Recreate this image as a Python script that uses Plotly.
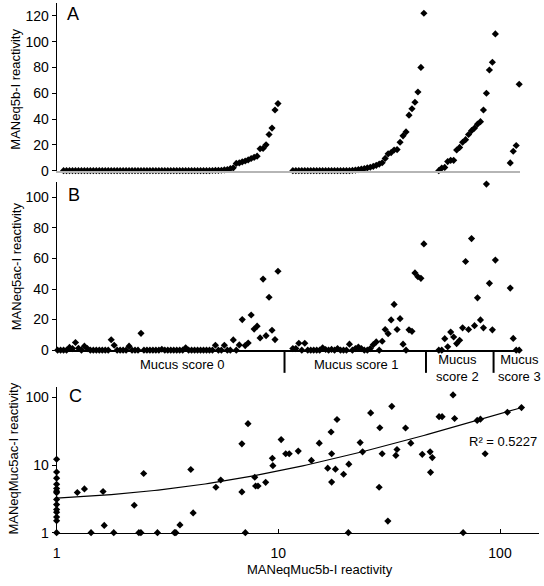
import numpy as np
import plotly.graph_objects as go

# ---------------- data ----------------
GROUP_LABELS = ["Mucus score 0", "Mucus score 1", "Mucus<br>score 2", "Mucus<br>score 3"]
GAP_SLOTS = 4  # empty category slots between mucus-score groups

# Panel A: MANeq5b-I reactivity (sorted within each mucus score group)
A_SCORE0 = [None, None,
            0, 0, 0, 0, 0, 0, 0, 0, 0, 0,
            0, 0, 0, 0, 0, 0, 0, 0, 0, 0,
            0, 0, 0, 0, 0, 0, 0, 0, 0, 0,
            0, 0, 0, 0, 0, 0, 0, 0, 0, 0,
            0, 0, 0, 0, 0, 0, 0, 0, 0, 0,
            0.1, 0.15, 0.2,
            0.3, 0.6, 0.9, 1.5, 2.2, 5.6, 6.0, 6.8, 7.5, 8.3,
            9.4, 10.3, 11.2, 17.0, 17.2, 20.0, 28.0, 33.0, 47.0, 52.0]
A_SCORE1 = [0, 0, 0, 0, 0, 0, 0, 0, 0, 0,
            0, 0, 0, 0, 0, 0, 0, 0, 0, 0,
            0.2, 0.4, 0.8, 1.3, 1.6, 2.1, 2.6, 3.3, 4.1, 5.1,
            6.1, 9.5, 13.0, 14.0, 16.0, 16.3, 22.0, 27.0, 30.0, 43.0,
            48.0, 53.0, 61.0, 80.0, 122.0]
A_SCORE2 = [0, 2, 2.5, 7, 8, 8, 16, 18, 22, 24,
            28, 31, 33, 36, 38, 47, 60, 78, 84, 106]
A_SCORE3 = [6, 15, 19.5, 67]

# Panel B: MANeq5ac-I reactivity (same samples, same order)
B_SCORE0 = [0, 0, 0, 0, 1.8, 1.0, 5.0, 1.2, 0, 2.6,
            1.0, 0, 0, 0, 0, 0, 0, 0, 6.8, 3.2,
            0, 0, 0, 0, 2.6, 0, 0, 0, 11.0, 0,
            0, 0, 0, 0, 0, 0.6, 0, 0, 0, 0,
            0, 0, 0, 1.5, 0, 0, 0, 0, 0, 0,
            0, 0, 0, 3.2, 0, 0, 3.2, 0, 0, 6.7,
            0, 3.4, 20.0, 3.0, 4.7, 23.0, 13.8, 15.7, 8.0, 46.5,
            9.5, 34.6, 13.0, 6.9, 51.6]
B_SCORE1 = [1.0, 1.0, 4.5, 0, 4.5, 0, 0, 0, 0, 0,
            1.5, 0.4, 0, 0.5, 0, 1.0, 0, 0, 0, 3.9,
            0, 1.0, 2.0, 1.0, 0, 0, 1.0, 3.6, 5.4, 0,
            5.8, 13.5, 10.8, 19.8, 29.9, 13.5, 20.6, 3.9, 0, 13.3,
            12.3, 50.5, 48.0, 47.0, 69.5]
B_SCORE2 = [0, 0, 7.5, 2.2, 11.8, 8.6, 4.3, 6.5, 14.6, 58.0,
            13.5, 73.0, 16.0, 34.2, 19.8, 14.6, 108.6, 43.7, 13.3, 58.9]
B_SCORE3 = [40.6, 7.7, 0, 0]

# Group boundaries drawn on panel B's axis (category positions)
DIVIDERS = [76.2, 123.7, 146.4]
LABEL_CENTERS = [42.0, 100.3, 134.3, 155.0]

# Panel C: log-log scatter, MANeqMuc5b-I vs MANeqMuc5ac-I
C_X = [1, 1, 1, 1, 1, 1, 1, 1, 1, 1, 1, 1, 1, 1,
       1.24, 1.335, 1.43, 1.62, 1.64, 1.81, 2.24, 2.35, 2.4, 2.47,
       2.85, 3.4, 3.45, 3.6, 4.03, 4.13, 5.23, 5.5, 6.85, 6.85,
       7.1, 7.3, 7.83, 7.9, 8.1, 8.77, 9.4, 9.45, 10.3, 10.8,
       11.2, 12.3, 14.1, 15.3, 16.7, 17.3, 17.4, 17.4, 18.1, 18.4,
       19.7, 20.7, 20.8, 23.4, 24.0, 26.1, 28.5, 28.7, 29.4, 31.2,
       32.5, 33.9, 34.3, 37.5, 39.6, 44.6, 48.4, 48.6, 49.5, 53.1,
       54.8, 61.4, 62.4, 68.2, 78.9, 81.6, 85.7, 108.0, 125.0]
C_Y = [12.2, 7.9, 6.4, 5.2, 4.5, 4.1, 3.9, 3.1, 2.6, 2.2, 2.0, 1.7, 1.5, 1.0,
       3.93, 4.43, 1.0, 4.06, 1.28, 1.0, 2.54, 1.0, 1.0, 7.5,
       1.0, 1.0, 1.0, 1.3, 8.6, 1.96, 4.7, 6.0, 20.6, 4.0,
       1.0, 41.0, 6.6, 4.9, 4.9, 5.55, 12.6, 9.8, 23.8, 14.7,
       14.7, 16.1, 11.7, 21.1, 9.0, 30.8, 14.7, 5.6, 8.7, 47.2,
       7.3, 1.0, 10.3, 21.5, 15.7, 59.0, 4.7, 35.6, 14.7, 1.48,
       74.0, 13.9, 17.0, 35.3, 21.1, 14.4, 15.7, 7.8, 12.9, 52.0,
       52.0, 109.0, 48.9, 1.0, 45.7, 47.7, 14.7, 60.4, 70.8]

# Linear trendline (Excel) shown on log axes
TREND_SLOPE = 0.545
TREND_INTERCEPT = 2.70
TREND_X_RANGE = [1, 125]
R2_TEXT = "R² = 0.5227"

# ---------------- positions from group sizes ----------------
a_groups = [A_SCORE0, A_SCORE1, A_SCORE2, A_SCORE3]
b_groups = [B_SCORE0, B_SCORE1, B_SCORE2, B_SCORE3]
xpos, a_all, b_all = [], [], []
start = 0
for ga, gb in zip(a_groups, b_groups):
    for i in range(len(ga)):
        xpos.append(start + i)
        a_all.append(ga[i])
        b_all.append(gb[i])
    start += len(ga) + GAP_SLOTS

# ---------------- layout helpers ----------------
W, H = 544, 586
FONT = "Liberation Sans, Arial, sans-serif"


def xd(p0, p1):
    return [p0 / W, p1 / W]


def yd(top, bottom):
    return [1 - bottom / H, 1 - top / H]


def px(x):
    return x / W


def py(y):
    return 1 - y / H


marker = dict(symbol="diamond", size=5.5, color="black", line=dict(width=0))

fig = go.Figure()
fig.add_trace(go.Scatter(x=xpos, y=a_all, mode="markers", marker=marker,
                         xaxis="x", yaxis="y", cliponaxis=False, showlegend=False))
fig.add_trace(go.Scatter(x=xpos, y=b_all, mode="markers", marker=marker,
                         xaxis="x2", yaxis="y2", cliponaxis=False, showlegend=False))
fig.add_trace(go.Scatter(x=C_X, y=C_Y, mode="markers", marker=marker,
                         xaxis="x3", yaxis="y3", cliponaxis=False, showlegend=False))
tx = np.logspace(np.log10(TREND_X_RANGE[0]), np.log10(TREND_X_RANGE[1]), 120)
fig.add_trace(go.Scatter(x=tx, y=TREND_SLOPE * tx + TREND_INTERCEPT, mode="lines",
                         line=dict(color="black", width=1.2),
                         xaxis="x3", yaxis="y3", showlegend=False, hoverinfo="skip"))

xr = [(53 - 54) / 3, (520 - 54) / 3]
tickfont = dict(family=FONT, size=14, color="black")

fig.update_layout(
    width=W, height=H,
    margin=dict(l=0, r=0, t=0, b=0),
    paper_bgcolor="white", plot_bgcolor="white",
    font=dict(family=FONT, size=13, color="black"),
    xaxis=dict(domain=xd(53, 520), range=xr, anchor="y", showline=True,
               linecolor="#b5b5b5", linewidth=2, showticklabels=False, ticks="",
               showgrid=False, zeroline=False),
    yaxis=dict(domain=yd(3, 173), range=[0, 130], anchor="x",
               tickvals=[0, 20, 40, 60, 80, 100, 120], ticks="outside", ticklen=4,
               tickcolor="black", showline=True, linecolor="black", linewidth=1,
               showgrid=False, zeroline=False, tickfont=tickfont),
    xaxis2=dict(domain=xd(53, 520), range=xr, anchor="y2", showline=True,
                linecolor="black", linewidth=1.5, showticklabels=False, ticks="",
                showgrid=False, zeroline=False),
    yaxis2=dict(domain=yd(184.5, 355), range=[0, 110], anchor="x2",
                tickvals=[0, 20, 40, 60, 80, 100], ticks="outside", ticklen=4,
                tickcolor="black", showline=True, linecolor="black", linewidth=1,
                showgrid=False, zeroline=False, tickfont=tickfont),
    xaxis3=dict(domain=xd(53, 539), type="log", range=[0, np.log10(150)], anchor="y3",
                tickvals=[1, 10, 100], ticktext=["1", "10", "100"], ticks="inside",
                ticklen=4, tickcolor="black", showline=True, linecolor="black",
                linewidth=1, showgrid=False, zeroline=False, tickfont=tickfont,
                ticklabelstandoff=8),
    yaxis3=dict(domain=yd(392, 540), type="log", range=[0, 2.16], anchor="x3",
                tickvals=[1, 10, 100], ticktext=["1", "10", "100"], ticks="outside",
                ticklen=4, tickcolor="black", showline=True, linecolor="black",
                linewidth=1, showgrid=False, zeroline=False, tickfont=tickfont),
)

shapes = []
for d in DIVIDERS:
    shapes.append(dict(type="line", xref="x2", yref="paper", x0=d, x1=d,
                       y0=py(355), y1=py(378), line=dict(color="black", width=2)))
fig.update_layout(shapes=shapes)

ann = []
for lab, cx in zip(GROUP_LABELS, LABEL_CENTERS):
    two = "<br>" in lab
    ann.append(dict(text=lab, xref="x2", yref="paper", x=cx, y=py(373.5 if two else 370),
                    xanchor="center", yanchor="middle", showarrow=False,
                    font=dict(family=FONT, size=13, color="black")))
for letter, (lx, ly) in zip(["A", "B", "C"], [(70, 14), (71, 198), (72, 401)]):
    ann.append(dict(text=letter, xref="paper", yref="paper", x=px(lx), y=py(ly),
                    xanchor="center", yanchor="middle", showarrow=False,
                    font=dict(family=FONT, size=18, color="black")))
for title, (tx_, ty_) in zip(["MANeq5b-I reactivity", "MANeq5ac-I reactivity",
                              "MANeqMuc5ac-I reactivity"],
                             [(12, 90), (12, 270), (10, 465)]):
    ann.append(dict(text=title, xref="paper", yref="paper", x=px(tx_), y=py(ty_),
                    xanchor="center", yanchor="middle", textangle=-90, showarrow=False,
                    font=dict(family=FONT, size=13, color="black")))
ann.append(dict(text="MANeqMuc5b-I reactivity", xref="paper", yref="paper",
                x=px(318), y=py(577), xanchor="center", yanchor="middle", showarrow=False,
                font=dict(family=FONT, size=13, color="black")))
ann.append(dict(text=R2_TEXT, xref="paper", yref="paper", x=px(466), y=py(448),
                xanchor="left", yanchor="middle", showarrow=False,
                font=dict(family=FONT, size=13, color="black")))
fig.update_layout(annotations=ann)

fig.write_html("out.html", config={"displayModeBar": False},
               post_script="document.body.style.margin='0px';")
